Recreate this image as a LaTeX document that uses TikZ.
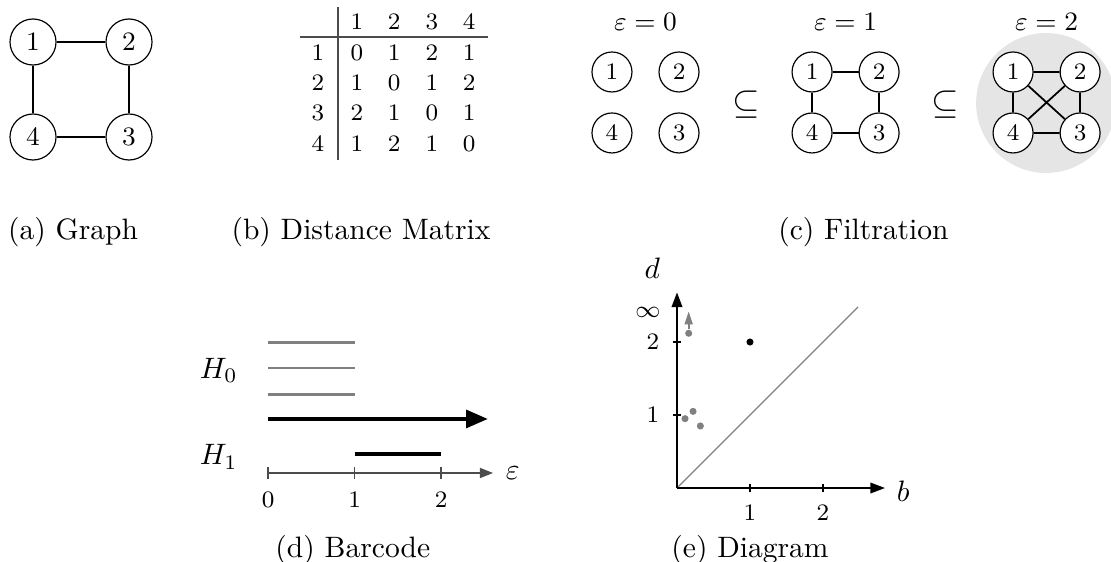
\documentclass[tikz,border=0pt]{standalone}
\usepackage{amsmath}
\usepackage{amssymb}
\usetikzlibrary{positioning, arrows.meta, calc}
\tikzset{
    vertex/.style={circle, draw, thin, minimum size=0.548cm, inner sep=0pt, font=\small},
    fvertex/.style={circle, draw, thin, fill=white, minimum size=0.476cm, inner sep=0pt, font=\footnotesize},
    link/.style={semithick},
    mcell/.style={font=\footnotesize, inner sep=0pt},
    mrule/.style={thin, color=black!70},
    capt/.style={font=\normalsize},
    epslbl/.style={font=\small},
    subs/.style={font=\large},
    bargray/.style={line width=1pt, color=gray},
    barblack/.style={line width=1.2pt, color=black},
    barinf/.style={-{Triangle[length=7.3pt, width=6pt]}, line width=1.2pt},
    baxis/.style={-{Triangle[length=4.4pt, width=3.4pt]}, thin, color=black!70},
    daxis/.style={-{Triangle[length=5pt, width=3.6pt]}, semithick},
    ticklbl/.style={font=\footnotesize},
    pdot/.style={circle, fill=#1, inner sep=0pt, minimum size=2.4pt},
    infarr/.style={-{Triangle[length=4.4pt, width=2.7pt]}, semithick, color=gray}
}
\begin{document}
\begin{tikzpicture}
    \clip (0,0) rectangle (13.227,6.679);
    % (a) graph
    \node[vertex] (g1) at (0.393,6.179) {1};
    \node[vertex] (g2) at (1.536,6.179) {2};
    \node[vertex] (g3) at (1.536,5.048) {3};
    \node[vertex] (g4) at (0.393,5.048) {4};
    \draw[link] (g1) -- (g2) -- (g3) -- (g4) -- (g1);
    \node[capt] (capa) at (0.869,3.917) {(a) Graph};
    % (b) distance matrix
    \foreach \j/\x in {1/4.250, 2/4.691, 3/5.143, 4/5.584}
        \node[mcell] (c\j) at (\x,6.417) {\j};
    \foreach \i/\y/\row in {1/6.048/{0,1,2,1}, 2/5.691/{1,0,1,2}, 3/5.334/{2,1,0,1}, 4/4.965/{1,2,1,0}} {
        \node[mcell] (r\i) at (3.786,\y) {\i};
        \foreach \v [count=\j] in \row
            \node[mcell] (m\i\j) at (c\j |- r\i) {\v};
    }
    \draw[mrule] (3.572,6.239) -- (5.810,6.239);
    \draw[mrule] (4.024,6.596) -- (4.024,4.774);
    \node[capt] (capb) at (4.298,3.917) {(b) Distance Matrix};
    % (c) filtration
    \fill[black!10] (12.454,5.453) circle (0.833);
    \foreach \g/\x/\e in {p/7.286/0, q/9.668/1, s/12.061/2} {
        \node[fvertex] (\g1) at (\x,5.822) {1};
        \node[fvertex, on grid, right=0.798cm of \g1] (\g2) {2};
        \node[fvertex, on grid, below=0.726cm of \g2] (\g3) {3};
        \node[fvertex, on grid, below=0.726cm of \g1] (\g4) {4};
        \node[epslbl] (eps\e) at (\x+0.399,6.417) {$\varepsilon=\e$};
    }
    \draw[link] (q1) -- (q2) -- (q3) -- (q4) -- (q1);
    \draw[link] (s1) -- (s2) -- (s3) -- (s4) -- (s1) (s1) -- (s3) (s2) -- (s4);
    \node[subs] (sub1) at (8.882,5.429) {$\subseteq$};
    \node[subs] (sub2) at (11.251,5.429) {$\subseteq$};
    \node[capt] (capc) at (10.280,3.917) {(c) Filtration};
    % (d) barcode
    \begin{scope}[shift={(3.191,1.048)}, xscale=1.03]
        \draw[bargray] (0,1.559) -- (1,1.559);
        \draw[bargray] (0,1.250) -- (1,1.250);
        \draw[bargray] (0,0.940) -- (1,0.940);
        \draw[barinf] (0,0.643) -- (2.54,0.643);
        \draw[barblack] (1,0.226) -- (2,0.226);
        \draw[baxis] (0,0) -- (2.6,0);
        \foreach \t in {0,1,2} {
            \draw[mrule] (\t,-0.07) -- (\t,0.07);
            \node[ticklbl] (bt\t) at (\t,-0.322) {\t};
        }
        \node (hzero) at (-0.57,1.22) {$H_0$};
        \node (hone) at (-0.57,0.19) {$H_1$};
        \node (epsax) at (2.83,0) {$\varepsilon$};
        \node[capt] (capd) at (0.98,-0.917) {(d) Barcode};
    \end{scope}
    % (e) persistence diagram
    \begin{scope}[shift={(8.060,0.869)}, scale=0.869]
        \draw[thin, gray] (0,0) -- (2.48,2.48);
        \draw[daxis] (0,0) -- (2.85,0);
        \draw[daxis] (0,0) -- (0,2.68);
        \foreach \t in {1,2} {
            \draw[thin] (\t,-0.06) -- (\t,0.06);
            \node[ticklbl] (xt\t) at (\t,-0.34) {\t};
            \draw[thin] (-0.06,\t) -- (0.06,\t);
            \node[ticklbl] (yt\t) at (-0.33,\t) {\t};
        }
        \node[ticklbl] (inflbl) at (-0.40,2.40) {$\infty$};
        \node (dlbl) at (-0.34,3.01) {$d$};
        \node (blbl) at (3.1,-0.05) {$b$};
        \node[pdot=black] (p12) at (1,2) {};
        \node[pdot=gray] (pinf) at (0.16,2.12) {};
        \node[pdot=gray] (pa) at (0.11,0.95) {};
        \node[pdot=gray] (pb) at (0.22,1.05) {};
        \node[pdot=gray] (pc) at (0.32,0.85) {};
        \draw[infarr] (pinf) -- (0.16,2.42);
        \node[capt] (cape) at (1.0,-0.85) {(e) Diagram};
    \end{scope}
\end{tikzpicture}
\end{document}
